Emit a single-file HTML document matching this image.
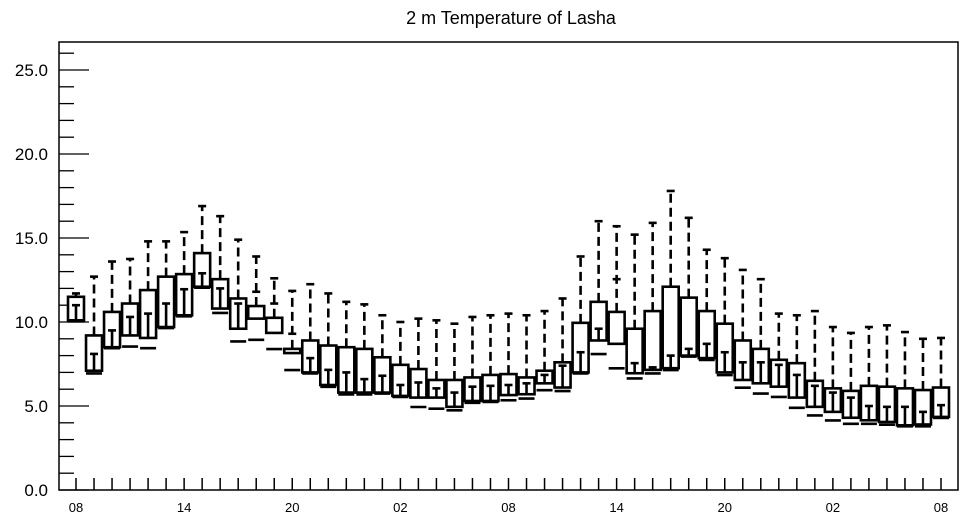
<!DOCTYPE html>
<html><head><meta charset="utf-8">
<style>
html,body{margin:0;padding:0;background:#fff;}
svg{display:block;font-family:"Liberation Sans",sans-serif;}
</style></head>
<body>
<svg id="chart" width="964" height="520" viewBox="0 0 964 520" xmlns="http://www.w3.org/2000/svg">
<text x="511" y="24" font-size="18" text-anchor="middle">2 m Temperature of Lasha</text>
<g id="axes"></g>
<g id="marks"></g>
</svg>
<script>
const hours = [8,9,10,11,12,13,14,15,16,17,18,19,20,21,22,23,0,1,2,3,4,5,6,7,8,9,10,11,12,13,14,15,16,17,18,19,20,21,22,23,0,1,2,3,4,5,6,7,8];
const maxVals = [11.7,12.7,13.6,13.75,14.8,14.8,15.35,16.9,16.3,14.9,13.9,12.6,11.85,12.25,11.7,11.2,11.05,10.4,10.0,10.2,10.1,9.9,10.3,10.4,10.5,10.4,10.65,11.4,13.9,16.0,15.7,15.2,15.9,17.8,16.2,14.3,13.8,13.1,12.55,10.5,10.4,10.65,9.7,9.35,9.7,9.8,9.4,9.0,9.05];
const q3Vals = [11.5,9.2,10.6,11.1,11.9,12.7,12.85,14.1,12.55,11.4,10.95,10.25,8.4,8.9,8.6,8.5,8.4,7.9,7.45,7.2,6.55,6.55,6.7,6.85,6.9,6.7,7.1,7.6,9.95,11.2,10.6,9.6,10.65,12.1,11.45,10.65,9.9,8.9,8.4,7.75,7.55,6.5,6.05,5.9,6.2,6.15,6.05,5.95,6.1];
const q1Vals = [10.1,7.1,8.5,9.2,9.05,9.7,10.4,12.1,10.8,9.6,10.2,9.35,8.15,7.0,6.25,5.8,5.8,5.8,5.6,5.5,5.5,4.95,5.3,5.3,5.65,5.7,6.35,6.1,7.0,8.9,8.7,6.95,7.15,7.25,8.0,7.85,7.0,6.55,6.35,6.15,5.5,4.95,4.65,4.3,4.15,4.05,3.85,3.9,4.35];
const midVals = [11.0,8.1,9.5,10.3,10.5,11.1,11.95,12.9,12.0,11.1,11.8,11.1,9.3,7.85,7.15,7.0,6.6,6.8,6.25,6.4,6.05,5.8,6.15,6.2,6.25,6.35,6.85,7.4,8.2,9.6,12.55,7.55,7.3,8.0,8.4,8.7,8.2,7.6,7.6,7.45,6.85,6.2,5.8,5.5,5.0,4.95,4.95,4.65,5.05];
const minVals = [10.1,7.0,8.5,8.6,8.5,9.7,10.4,12.1,10.6,8.9,9.0,8.45,7.2,7.0,6.2,5.75,5.75,5.8,5.6,5.0,4.9,4.8,5.25,5.3,5.4,5.5,6.0,5.95,7.0,8.15,7.3,6.7,7.0,7.2,8.0,7.8,6.9,6.15,5.8,5.6,4.95,4.5,4.2,4.0,4.0,3.95,3.85,3.85,4.35];
const yTicks = [0,5,10,15,20,25];
const yTickLabels = ["0.0","5.0","10.0","15.0","20.0","25.0"];

const NS = "http://www.w3.org/2000/svg";
const L = 59, R = 958, T = 42, B = 490;
const yMin = 0, yMax = (B - T) / 16.8;
function yScale(v){ return B - (v - yMin) / (yMax - yMin) * (B - T); }
function xScale(i){ return 76 + i * (941 - 76) / (hours.length - 1); }
function mk(tag, attrs, parent){
  const e = document.createElementNS(NS, tag);
  for (const k in attrs) e.setAttribute(k, attrs[k]);
  parent.appendChild(e);
  return e;
}
const axes = document.getElementById('axes');
const marks = document.getElementById('marks');

const frame = mk('rect', {x:L, y:T, width:R-L, height:B-T, fill:'none', stroke:'#000', 'stroke-width':1.5}, axes);



for (let v = 0; v <= Math.floor(yMax); v++) {
  const major = v % 5 === 0;
  const t = mk('line', {x1:L, x2:L + (major ? 30 : 15), y1:yScale(v), y2:yScale(v), stroke:'#000', 'stroke-width':1.3}, axes);
  
  
}
yTicks.forEach((v, k) => {
  const tx = mk('text', {x:48, y:yScale(v) + 6, 'font-size':17, 'text-anchor':'end'}, axes);
  tx.textContent = yTickLabels[k];
  
  
});
hours.forEach((h, i) => {
  const x = xScale(i);
  const t = mk('line', {x1:x, x2:x, y1:B, y2:B - 12, stroke:'#000', 'stroke-width':1.5}, axes);
  
  
  if (i % 6 === 0) {
    const tx = mk('text', {x:x, y:512, 'font-size':13, 'text-anchor':'middle'}, axes);
    tx.textContent = String(h).padStart(2, '0');
    
    
  }
});

const hw = 8, cw = 4, lw = 2.6;
hours.forEach((h, i) => {
  const x = xScale(i);
  const g = mk('g', {}, marks);
  
  
  const yT = yScale(q3Vals[i]), yB = yScale(q1Vals[i]);
  const w = mk('line', {x1:x, x2:x, y1:yT, y2:yScale(maxVals[i]), stroke:'#000', 'stroke-width':lw, 'stroke-dasharray':'9,5'}, g);
  
  
  const c = mk('line', {x1:x-cw, x2:x+cw, y1:yScale(maxVals[i]), y2:yScale(maxVals[i]), stroke:'#000', 'stroke-width':lw}, g);
  
  
  const b = mk('rect', {x:x-hw, y:yT, width:2*hw, height:Math.max(1, yB-yT), fill:'#fff', stroke:'#000', 'stroke-width':lw}, g);
  
  
  const ym = yScale(midVals[i]);
  const st = mk('line', {x1:x, x2:x, y1:Math.max(ym, yT), y2: ym > yT ? yB : yT, stroke:'#000', 'stroke-width':lw}, g);
  
  
  const m = mk('line', {x1:x-cw, x2:x+cw, y1:ym, y2:ym, stroke:'#000', 'stroke-width':lw}, g);
  
  
  const d = mk('line', {x1:x-hw, x2:x+hw, y1:yScale(minVals[i])+1, y2:yScale(minVals[i])+1, stroke:'#000', 'stroke-width':lw}, g);
  
  
});
</script>
</body></html>
